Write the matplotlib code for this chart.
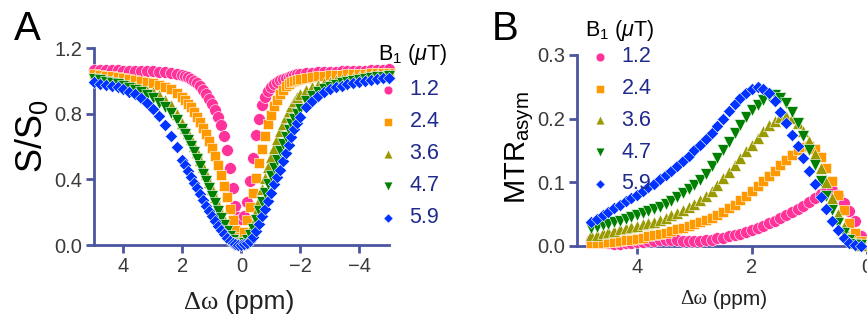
import matplotlib
matplotlib.use('Agg')
import matplotlib.pyplot as plt

plt.rcParams['font.family'] = ['Liberation Sans', 'DejaVu Sans']
plt.rcParams['mathtext.fontset'] = 'custom'
plt.rcParams['mathtext.rm'] = 'Liberation Sans'
plt.rcParams['mathtext.it'] = 'Liberation Sans:italic'

# ---- data ----
b1_labels = ['1.2', '2.4', '3.6', '4.7', '5.9']

# panel A: Z-spectra, offsets in ppm
offs_a = [5.0, 4.8, 4.6, 4.4, 4.2, 4.0, 3.8, 3.6, 3.4, 3.2, 3.0, 2.8, 2.6, 2.4, 2.2,
          2.0, 1.9, 1.8, 1.7, 1.6, 1.5, 1.4, 1.3, 1.2, 1.1, 1.0, 0.9, 0.8, 0.7, 0.6,
          0.5, 0.4, 0.3, 0.2, 0.1, 0.0, -0.1, -0.2, -0.3, -0.4, -0.5, -0.6, -0.7, -0.8,
          -0.9, -1.0, -1.1, -1.2, -1.3, -1.4, -1.5, -1.6, -1.7, -1.8, -1.9, -2.0,
          -2.2, -2.4, -2.6, -2.8, -3.0, -3.2, -3.4, -3.6, -3.8, -4.0, -4.2, -4.4, -4.6, -4.8, -5.0]

z_12 = [1.067, 1.066, 1.066, 1.065, 1.064, 1.063, 1.062, 1.061, 1.060, 1.059, 1.057, 1.055, 1.052, 1.048, 1.043,
        1.036, 1.030, 1.022, 1.012, 1.000, 0.985, 0.967, 0.945, 0.920, 0.890, 0.860, 0.825, 0.780, 0.730, 0.665,
        0.580, 0.470, 0.350, 0.240, 0.170, 0.160, 0.180, 0.260, 0.390, 0.530, 0.670, 0.770, 0.850, 0.900,
        0.940, 0.965, 0.982, 0.995, 1.005, 1.013, 1.020, 1.026, 1.031, 1.035, 1.039, 1.042,
        1.046, 1.049, 1.051, 1.053, 1.055, 1.056, 1.058, 1.059, 1.060, 1.062, 1.063, 1.065, 1.067, 1.069, 1.070]
z_24 = [1.040, 1.036, 1.032, 1.028, 1.024, 1.020, 1.014, 1.008, 1.000, 0.993, 0.985, 0.975, 0.963, 0.948, 0.928,
        0.900, 0.883, 0.862, 0.838, 0.810, 0.780, 0.748, 0.713, 0.675, 0.634, 0.590, 0.540, 0.485, 0.425, 0.360,
        0.290, 0.220, 0.150, 0.090, 0.050, 0.035, 0.080, 0.150, 0.230, 0.320, 0.410, 0.500, 0.585, 0.665,
        0.735, 0.795, 0.845, 0.885, 0.920, 0.947, 0.967, 0.980, 0.990, 0.998, 1.004, 1.009,
        1.017, 1.023, 1.027, 1.031, 1.034, 1.036, 1.038, 1.040, 1.041, 1.043, 1.044, 1.046, 1.047, 1.049, 1.050]
z_36 = [1.020, 1.014, 1.008, 1.000, 0.993, 0.985, 0.975, 0.965, 0.952, 0.938, 0.935, 0.912, 0.885, 0.850, 0.800,
        0.745, 0.715, 0.680, 0.645, 0.605, 0.565, 0.520, 0.475, 0.430, 0.385, 0.340, 0.295, 0.245, 0.195, 0.150,
        0.105, 0.070, 0.040, 0.020, 0.008, 0.005, 0.015, 0.040, 0.080, 0.130, 0.200, 0.270, 0.340, 0.410,
        0.475, 0.535, 0.590, 0.645, 0.695, 0.740, 0.780, 0.815, 0.848, 0.876, 0.900, 0.920,
        0.945, 0.963, 0.977, 0.988, 0.996, 1.003, 1.009, 1.014, 1.019, 1.023, 1.027, 1.030, 1.033, 1.036, 1.039]
z_47 = [1.010, 1.003, 0.995, 0.987, 0.978, 0.968, 0.957, 0.945, 0.930, 0.913, 0.893, 0.868, 0.840, 0.805, 0.760,
        0.705, 0.675, 0.640, 0.605, 0.565, 0.525, 0.480, 0.435, 0.390, 0.345, 0.300, 0.255, 0.210, 0.165, 0.125,
        0.085, 0.055, 0.030, 0.015, 0.006, 0.003, 0.010, 0.030, 0.060, 0.100, 0.150, 0.205, 0.260, 0.315,
        0.370, 0.420, 0.470, 0.520, 0.570, 0.615, 0.660, 0.700, 0.735, 0.770, 0.800, 0.830,
        0.875, 0.905, 0.930, 0.950, 0.965, 0.977, 0.987, 0.995, 1.002, 1.008, 1.013, 1.018, 1.022, 1.026, 1.030]
z_59 = [0.990, 0.983, 0.976, 0.968, 0.960, 0.950, 0.935, 0.918, 0.895, 0.868, 0.830, 0.785, 0.730, 0.665, 0.595,
        0.520, 0.485, 0.450, 0.415, 0.380, 0.345, 0.310, 0.275, 0.240, 0.205, 0.175, 0.145, 0.115, 0.090, 0.065,
        0.045, 0.028, 0.015, 0.007, 0.003, 0.002, 0.004, 0.012, 0.027, 0.050, 0.085, 0.130, 0.175, 0.220,
        0.270, 0.320, 0.370, 0.415, 0.460, 0.510, 0.560, 0.610, 0.660, 0.705, 0.745, 0.780,
        0.840, 0.880, 0.910, 0.932, 0.948, 0.960, 0.970, 0.979, 0.987, 0.994, 1.000, 1.005, 1.010, 1.015, 1.020]

# panel B: MTRasym, offsets 4.8 .. 0.1 ppm
offs_b = [4.8, 4.7, 4.6, 4.5, 4.4, 4.3, 4.2, 4.1, 4.0, 3.9, 3.8, 3.7, 3.6, 3.5, 3.4, 3.3,
          3.2, 3.1, 3.0, 2.9, 2.8, 2.7, 2.6, 2.5, 2.4, 2.3, 2.2, 2.1, 2.0, 1.9, 1.8, 1.7,
          1.6, 1.5, 1.4, 1.3, 1.2, 1.1, 1.0, 0.9, 0.8, 0.7, 0.6, 0.5, 0.4, 0.3, 0.2, 0.1]

mtr_12 = [0.009, 0.008, 0.006, 0.004, 0.003, 0.003, 0.004, 0.005, 0.006, 0.007, 0.008, 0.008, 0.009, 0.009, 0.009, 0.009,
          0.008, 0.008, 0.008, 0.008, 0.009, 0.010, 0.012, 0.013, 0.015, 0.017, 0.019, 0.022, 0.025, 0.029, 0.032, 0.036,
          0.040, 0.044, 0.049, 0.053, 0.058, 0.063, 0.069, 0.075, 0.082, 0.087, 0.088, 0.080, 0.068, 0.055, 0.040, 0.016]
mtr_12_err = [0, 0, 0, 0, 0, 0, 0, 0, 0, 0, 0, 0, 0, 0, 0, 0,
              0, 0, 0, 0, 0, 0, 0, 0, 0, 0, 0, 0, 0, 0, 0, 0,
              0, 0, 0, 0, 0, 0, 0, 0, 0, 0, 0.003, 0.004, 0.005, 0.006, 0.006, 0.008]
mtr_24 = [0.004, 0.005, 0.005, 0.006, 0.007, 0.008, 0.009, 0.010, 0.011, 0.013, 0.015, 0.017, 0.019, 0.021, 0.024, 0.026,
          0.029, 0.032, 0.035, 0.038, 0.041, 0.044, 0.048, 0.053, 0.059, 0.065, 0.072, 0.079, 0.086, 0.094, 0.102, 0.110,
          0.118, 0.127, 0.135, 0.143, 0.150, 0.155, 0.157, 0.152, 0.140, 0.122, 0.102, 0.080, 0.056, 0.036, 0.020, 0.008]
mtr_36 = [0.017, 0.018, 0.020, 0.022, 0.024, 0.026, 0.028, 0.030, 0.032, 0.034, 0.036, 0.038, 0.041, 0.044, 0.048, 0.052,
          0.056, 0.061, 0.066, 0.072, 0.079, 0.087, 0.096, 0.106, 0.116, 0.127, 0.138, 0.149, 0.159, 0.170, 0.181, 0.190,
          0.197, 0.202, 0.204, 0.201, 0.193, 0.180, 0.165, 0.145, 0.123, 0.100, 0.076, 0.051, 0.030, 0.013, 0.004, 0.001]
mtr_47 = [0.028, 0.030, 0.033, 0.035, 0.037, 0.040, 0.043, 0.046, 0.049, 0.052, 0.055, 0.058, 0.062, 0.066, 0.071, 0.077,
          0.083, 0.089, 0.096, 0.104, 0.113, 0.125, 0.138, 0.151, 0.164, 0.178, 0.190, 0.203, 0.213, 0.222, 0.229, 0.235,
          0.237, 0.233, 0.224, 0.210, 0.193, 0.173, 0.151, 0.127, 0.102, 0.078, 0.056, 0.036, 0.020, 0.009, 0.003, 0.001]
mtr_59 = [0.038, 0.043, 0.048, 0.054, 0.059, 0.065, 0.070, 0.075, 0.080, 0.086, 0.092, 0.098, 0.105, 0.111, 0.118, 0.125,
          0.133, 0.141, 0.150, 0.159, 0.168, 0.178, 0.189, 0.200, 0.212, 0.223, 0.233, 0.241, 0.247, 0.250, 0.247, 0.240,
          0.228, 0.210, 0.193, 0.175, 0.157, 0.138, 0.118, 0.097, 0.077, 0.058, 0.040, 0.025, 0.012, 0.004, 0.001, 0.000]

colors = ['#ff3399', '#ff9900', '#999900', '#008000', '#0033ff']
markers = ['o', 's', '^', 'v', 'D']
msizes = [72, 56, 72, 72, 40]

spine_col = '#4a55a0'
tick_col = '#3a3a3a'
leg_col = '#1f2a8c'
leg_title = 'B$_1$ ($\\mathit{\\mu}$T)'

fig = plt.figure(figsize=(8.67, 3.2), dpi=100)
axA = fig.add_axes([0.1084, 0.234, 0.340, 0.616])
axB = fig.add_axes([0.6652, 0.2313, 0.3343, 0.597])


def style(ax):
    for s in ['top', 'right']:
        ax.spines[s].set_visible(False)
    for s in ['left', 'bottom']:
        ax.spines[s].set_color(spine_col)
        ax.spines[s].set_linewidth(2)
    ax.tick_params(colors=spine_col, labelcolor=tick_col, width=2, length=5.5,
                   labelsize=14.5, pad=3)


# panel A
za = [z_12, z_24, z_36, z_47, z_59]
for ys, c, m, s, lab in zip(za, colors, markers, msizes, b1_labels):
    axA.scatter(offs_a, ys, c=c, marker=m, s=s, edgecolors='white',
                linewidths=0.4, label=lab, clip_on=False, zorder=3)
axA.set_xlim(5, -5)
axA.set_ylim(0, 1.2)
axA.set_xticks([4, 2, 0, -2, -4])
axA.set_yticks([0.0, 0.4, 0.8, 1.2])
axA.set_yticklabels(['0.0', '0.4', '0.8', '1.2'])
style(axA)
axA.set_ylabel('S/S$_0$', fontsize=26)
axA.yaxis.set_label_coords(-0.148, 0.555)
tA = axA.text(0.305, -0.325, 'Δω', transform=axA.transAxes, fontsize=19,
              family='Liberation Serif', color='#222222', ha='left', va='baseline')
axA.annotate(' (ppm)', xy=(1, 0), xycoords=tA, fontsize=19, color='#222222',
             ha='left', va='bottom')
fig.text(0.436, 0.813, leg_title, fontsize=15.5, va='baseline')
axA.legend(loc='upper left', bbox_to_anchor=(0.4376, 0.752), bbox_transform=fig.transFigure,
           frameon=False, fontsize=15.5, labelcolor=leg_col,
           markerscale=0.75, handletextpad=0.6, labelspacing=0.51,
           handlelength=0.8, borderaxespad=0, borderpad=0)
fig.text(0.016, 0.875, 'A', fontsize=29, va='baseline')

# panel B
mb = [mtr_12, mtr_24, mtr_36, mtr_47, mtr_59]
for ys, c, m, s, lab in zip(mb, colors, markers, msizes, b1_labels):
    axB.scatter(offs_b, ys, c=c, marker=m, s=s, edgecolors='white',
                linewidths=0.4, label=lab, clip_on=False, zorder=3)
axB.errorbar(offs_b, mtr_12, yerr=mtr_12_err, fmt='none', ecolor=colors[0],
             elinewidth=1, capsize=2.5, zorder=2, clip_on=False)
axB.set_xlim(5.05, 0)
axB.set_ylim(0, 0.3)
axB.set_xticks([4, 2, 0])
axB.set_yticks([0.0, 0.1, 0.2, 0.3])
axB.set_yticklabels(['0.0', '0.1', '0.2', '0.3'])
style(axB)
axB.set_ylabel('MTR$_{\\mathrm{asym}}$', fontsize=21)
axB.yaxis.set_label_coords(-0.14, 0.515)
tB = axB.text(0.356, -0.305, 'Δω', transform=axB.transAxes, fontsize=15,
              family='Liberation Serif', color='#222222', ha='left', va='baseline')
axB.annotate(' (ppm)', xy=(1, 0), xycoords=tB, fontsize=15, color='#222222',
             ha='left', va='bottom')
fig.text(0.6747, 0.888, leg_title, fontsize=15.5, va='baseline')
axB.legend(loc='upper left', bbox_to_anchor=(0.682, 0.855), bbox_transform=fig.transFigure,
           frameon=False, fontsize=15.5, labelcolor=leg_col,
           markerscale=0.75, handletextpad=0.6, labelspacing=0.5,
           handlelength=0.8, borderaxespad=0, borderpad=0)
fig.text(0.567, 0.875, 'B', fontsize=29, va='baseline')

fig.savefig('out.png', dpi=100)
